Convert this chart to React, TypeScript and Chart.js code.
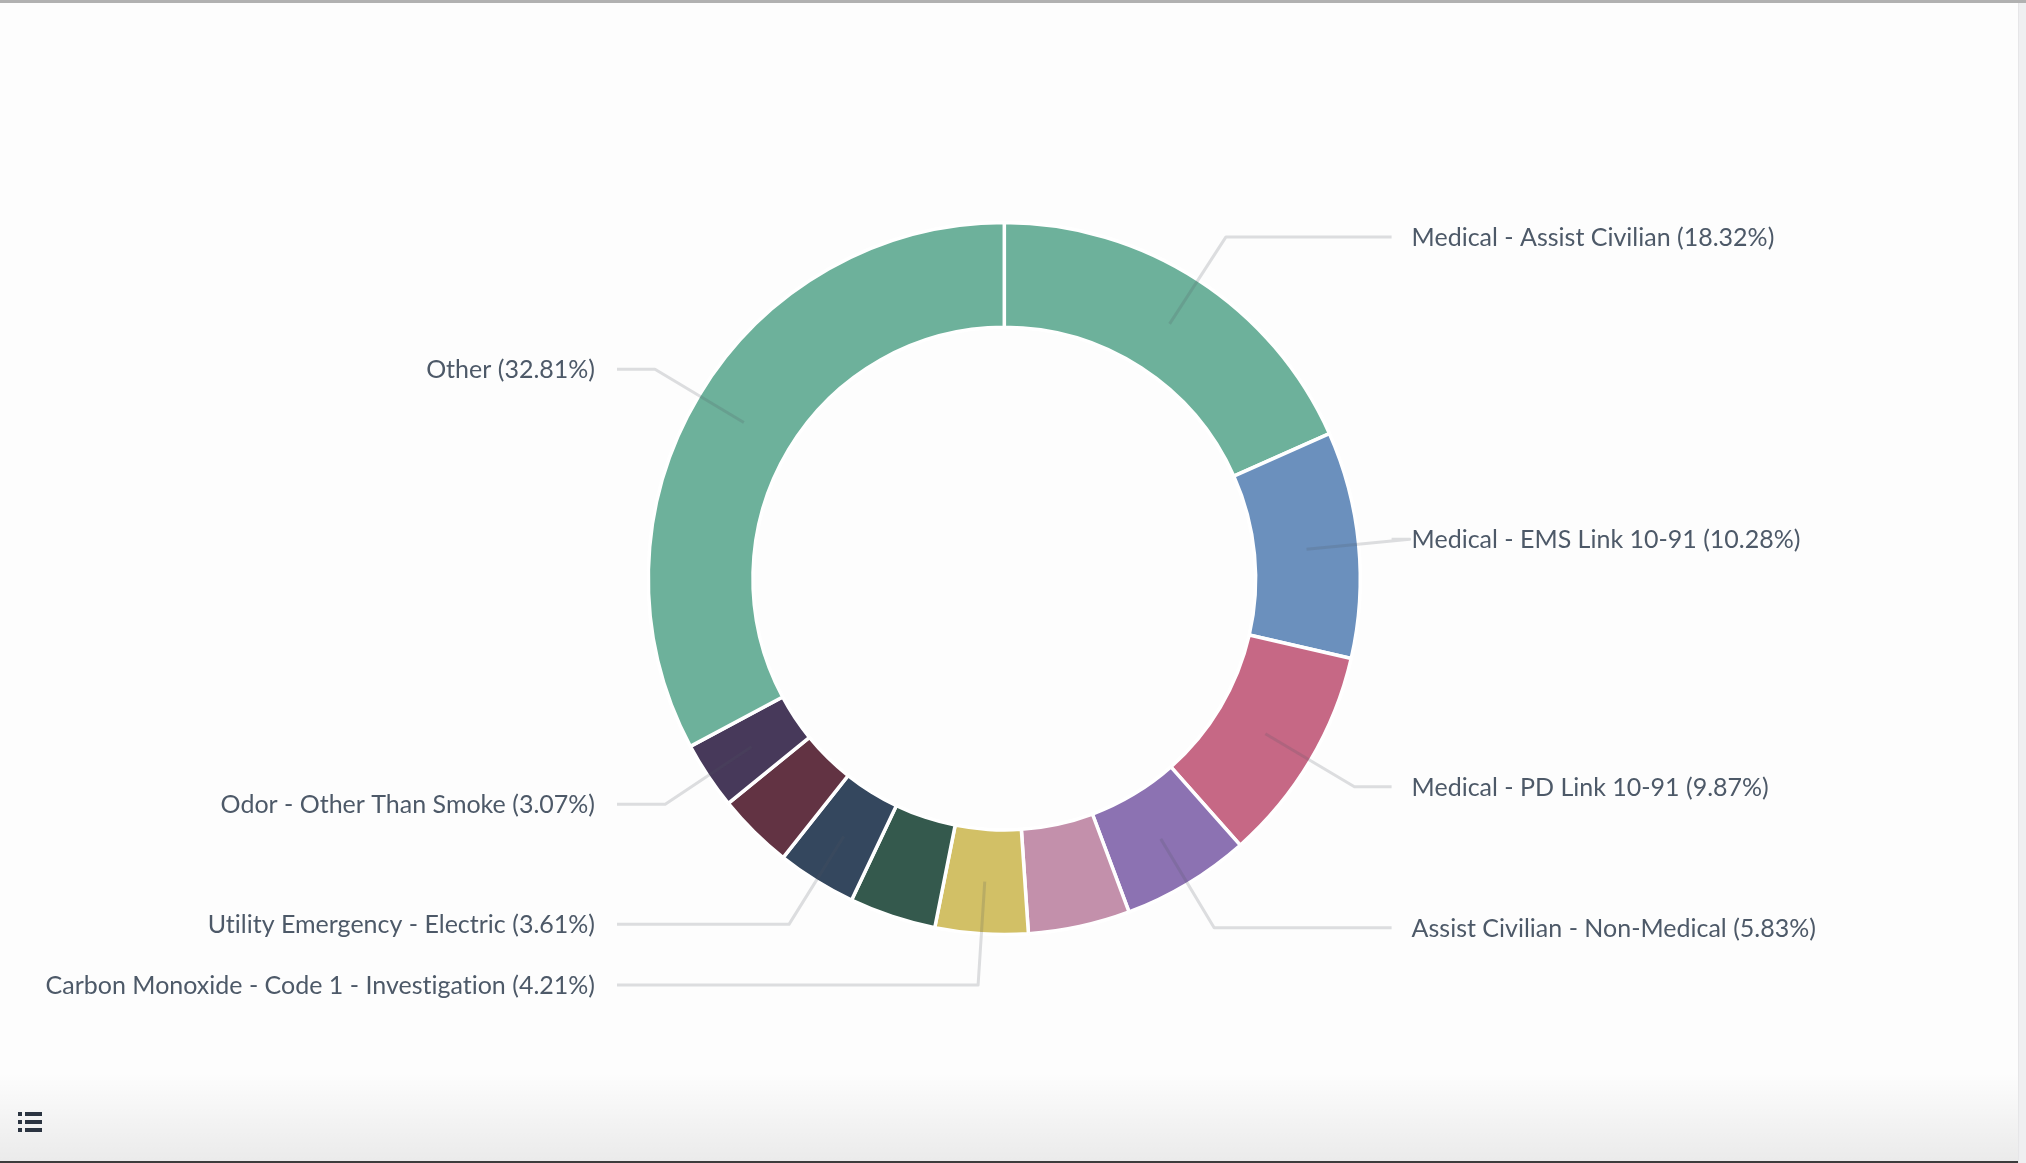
import React, { useEffect, useRef } from 'react';
import { Chart, registerables } from 'chart.js';

Chart.register(...registerables);

// ---- Data ----
const categories: string[] = [
  'Medical - Assist Civilian',
  'Medical - EMS Link 10-91',
  'Medical - PD Link 10-91',
  'Assist Civilian - Non-Medical',
  'Unlabeled slice (pink)',
  'Carbon Monoxide - Code 1 - Investigation',
  'Unlabeled slice (dark green)',
  'Utility Emergency - Electric',
  'Unlabeled slice (maroon)',
  'Odor - Other Than Smoke',
  'Other',
];
const shares: number[] = [18.32, 10.28, 9.87, 5.83, 4.62, 4.21, 3.93, 3.61, 3.45, 3.07, 32.81];
const labelShown: boolean[] = [true, true, true, true, false, true, false, true, false, true, true];
const sliceColors: string[] = [
  '#6db19b', '#6b90bd', '#c66885', '#8c72b2', '#c390ab',
  '#d2c066', '#34594d', '#34475e', '#623343', '#47395a', '#6db19b',
];

// ---- Styles ----
const LABEL_FONT = '25px Lato';
const LABEL_COLOR = '#4d5968';
const CAP_HEIGHT = 17.9;
const LABEL_DISTANCE = 51.3;
const CONNECTOR_GAP = 20;
const CONNECTOR_COLOR = 'rgba(80,85,95,0.19)';

const labelPlugin = {
  id: 'pieLabels',
  afterDatasetsDraw(chart: any) {
    const ctx: any = chart.ctx;
    const meta = chart.getDatasetMeta(0);
    const data = chart.data.datasets[0].data as number[];
    const total = data.reduce((a, b) => a + b, 0);
    meta.data.forEach((arc: any, i: number) => {
      if (!labelShown[i]) return;
      const { x, y, startAngle, endAngle, innerRadius, outerRadius } = arc.getProps(
        ['x', 'y', 'startAngle', 'endAngle', 'innerRadius', 'outerRadius'],
        true
      );
      const mid = (startAngle + endAngle) / 2;
      const rA = (innerRadius + outerRadius) / 2;
      const rL = outerRadius + LABEL_DISTANCE;
      const ax = x + Math.cos(mid) * rA;
      const ay = y + Math.sin(mid) * rA;
      const bx = x + Math.cos(mid) * rL;
      const by = y + Math.sin(mid) * rL;
      const right = Math.cos(mid) >= 0;
      const colX = right ? x + rL : x - rL;
      const endX = right ? colX - CONNECTOR_GAP : colX + CONNECTOR_GAP;
      ctx.save();
      ctx.beginPath();
      ctx.moveTo(ax, ay);
      ctx.lineTo(bx, by);
      ctx.lineTo(endX, by);
      ctx.strokeStyle = CONNECTOR_COLOR;
      ctx.lineWidth = 3;
      ctx.lineJoin = 'round';
      ctx.stroke();
      const pct = ((data[i] / total) * 100).toFixed(2);
      const text = `${categories[i]} (${pct}%)`;
      ctx.font = LABEL_FONT;
      if ('textRendering' in ctx) ctx.textRendering = 'optimizeSpeed';
      ctx.fillStyle = LABEL_COLOR;
      ctx.textAlign = right ? 'left' : 'right';
      ctx.textBaseline = 'alphabetic';
      ctx.fillText(text, right ? colX : colX - 2, by + CAP_HEIGHT / 2);
      ctx.restore();
    });
  },
};

function ListIcon() {
  const rows = [0, 1, 2];
  return (
    <div style={{ position: 'absolute', left: 18, top: 1112, width: 26, height: 22 }}>
      {rows.map((r) => (
        <React.Fragment key={r}>
          <div style={{ position: 'absolute', left: 0, top: r * 8, width: 4, height: 4, background: '#2b3441' }} />
          <div style={{ position: 'absolute', left: 7, top: r * 8, width: 17, height: 4, background: '#2b3441' }} />
        </React.Fragment>
      ))}
    </div>
  );
}

export default function App() {
  const canvasRef = useRef<HTMLCanvasElement | null>(null);

  useEffect(() => {
    if (!canvasRef.current) return;
    const chart = new Chart(canvasRef.current, {
      type: 'doughnut',
      data: {
        labels: categories,
        datasets: [
          {
            data: shares,
            backgroundColor: sliceColors,
            borderColor: '#ffffff',
            borderWidth: 3.5,
            hoverOffset: 0,
          },
        ],
      },
      options: {
        animation: false,
        responsive: false,
        maintainAspectRatio: false,
        radius: 356,
        cutout: '70.6%',
        layout: { padding: { left: 0, top: 0, right: 17.4, bottom: 5.8 } },
        plugins: {
          legend: { display: false },
          tooltip: { enabled: false },
        },
        events: [],
      } as any,
      plugins: [labelPlugin],
    });
    if ((document as any).fonts && (document as any).fonts.load) {
      (document as any).fonts.load(LABEL_FONT).then(() => chart.draw()).catch(() => {});
    }
    return () => chart.destroy();
  }, []);

  return (
    <div
      style={{
        position: 'fixed',
        left: 0,
        top: 0,
        width: 2026,
        height: 1163,
        background: '#fdfdfd',
        overflow: 'hidden',
      }}
    >
      <div style={{ position: 'absolute', left: 0, right: 0, bottom: 0, height: 90, background: 'linear-gradient(to bottom, rgba(0,0,0,0), rgba(0,0,0,0.075))' }} />
      <div style={{ position: 'absolute', left: 0, right: 0, bottom: 0, height: 2, background: '#3c3c3c' }} />
      <div style={{ position: 'absolute', left: 0, right: 0, top: 0, height: 3, background: '#b1b1b1' }} />
      <div style={{ position: 'absolute', left: 2018, top: 3, width: 8, bottom: 0, background: '#efeff1', borderLeft: '1px solid #e6e6e8', boxSizing: 'border-box' }} />
      <canvas
        ref={canvasRef}
        width={2026}
        height={1163}
        style={{ position: 'absolute', left: 0, top: 0, width: 2026, height: 1163 }}
      />
      <ListIcon />
    </div>
  );
}
